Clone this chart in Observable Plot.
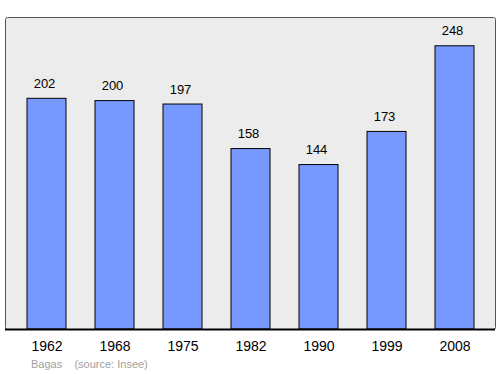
<!DOCTYPE html>
<html>
<head>
<meta charset="utf-8">
<script src="https://cdn.jsdelivr.net/npm/d3@7"></script>
<script src="https://cdn.jsdelivr.net/npm/@observablehq/plot@0.6"></script>
<style>
  html, body { margin: 0; padding: 0; background: #fff; }
  #wrap { position: relative; width: 500px; height: 374px; font-family: "Liberation Sans", Arial, sans-serif; }
  #caption { position: absolute; left: 31px; top: 358px; font-size: 11px; color: #a0a0a0; white-space: pre; }
</style>
</head>
<body>
<div id="wrap"><div id="chart"></div><div id="caption">Bagas    (source: Insee)</div></div>
<script>
const years = ["1962", "1968", "1975", "1982", "1990", "1999", "2008"];
const population = [202, 200, 197, 158, 144, 173, 248];

const data = years.map((y, i) => ({year: y, pop: population[i]}));

const chart = Plot.plot({
  width: 500,
  height: 356,
  marginLeft: 5,
  marginRight: 5,
  marginTop: 17,
  marginBottom: 27,
  style: {fontFamily: "Liberation Sans, Arial, sans-serif", background: "transparent"},
  x: {type: "band", domain: years, range: [11.3, 490.1], paddingInner: 0.43, paddingOuter: 0.215, align: 0.5, label: null},
  y: {domain: [0, 273.2], axis: null},
  marks: [
    Plot.frame({fill: "#ececec", stroke: "#555", strokeWidth: 1, rx: 2}),
    Plot.barY(data, {x: "year", y: "pop", fill: "#7799ff", stroke: "#000", strokeWidth: 1}),
    Plot.text(data, {x: "year", y: "pop", text: d => String(d.pop), dx: -2.5, dy: -15, fontSize: 13, fill: "#000"}),
    Plot.ruleY([0], {stroke: "#000", strokeWidth: 2}),
    Plot.axisX({tickSize: 0, tickPadding: 12, fontSize: 14, label: null, color: "#000"})
  ]
});
document.getElementById("chart").appendChild(chart);
</script>
</body>
</html>
